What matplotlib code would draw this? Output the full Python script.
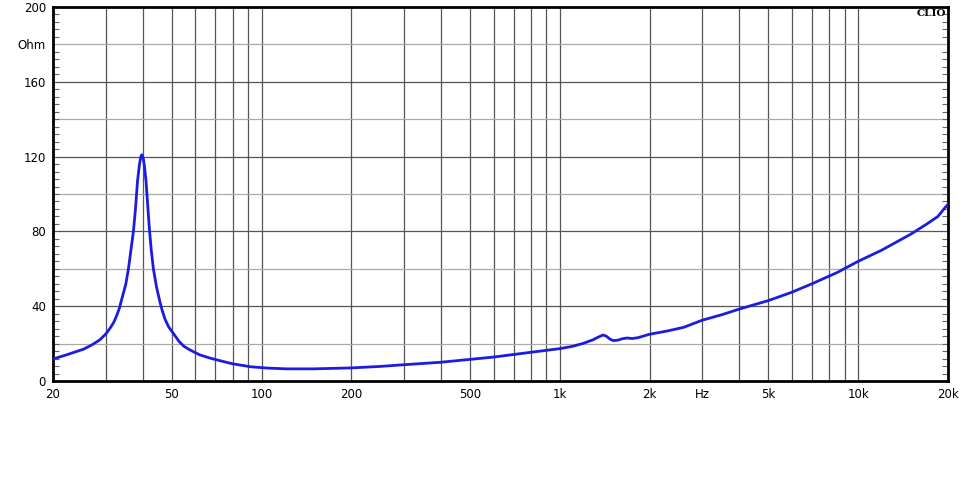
import numpy as np
import matplotlib
matplotlib.use('Agg')
import matplotlib.pyplot as plt
import matplotlib.ticker as ticker

# impedance curve (Hz, Ohm)
freq = [20, 21, 22.2, 23.5, 25.3, 27, 28.7, 30, 31, 32, 32.7, 33.4, 33.9, 34.5,
        35.1, 35.8, 36.5, 37.2, 37.8, 38.4, 39.0, 39.4, 39.7, 40.1, 40.5, 41.0,
        41.5, 42.1, 42.7, 43.4, 44.0, 44.5, 45.1, 45.7, 46.5, 47.5, 48.8, 50.6,
        53, 55, 57.6, 62, 67, 72, 80, 92, 105, 121, 150, 200, 250, 300, 397,
        474, 600, 794, 1000, 1100, 1196, 1290, 1350, 1396, 1430, 1470, 1507,
        1560, 1620, 1680, 1750, 1830, 1920, 2000, 2300, 2600, 3000, 3500, 4000,
        5000, 6000, 7000, 8500, 10000, 12000, 13500, 15000, 17000, 18500, 19500,
        20000]
imp = [11.8, 12.8, 14.0, 15.3, 17.0, 19.3, 22.0, 25.0, 28.0, 31.5, 35.0, 39.0,
       43.0, 47.5, 52.0, 60.0, 70.0, 80.0, 92.0, 107.0, 116.0, 120.0, 121.0,
       119.5, 115.0, 107.0, 95.0, 81.0, 70.0, 60.0, 54.5, 50.0, 46.0, 42.0,
       37.5, 33.0, 29.0, 25.5, 21.0, 18.5, 16.6, 14.0, 12.3, 11.0, 9.2, 7.6,
       6.9, 6.5, 6.5, 7.0, 7.8, 8.7, 10.0, 11.2, 12.8, 15.3, 17.3, 18.5, 20.1,
       22.0, 23.6, 24.6, 24.0, 22.5, 21.6, 21.8, 22.6, 23.0, 22.7, 23.2, 24.2,
       25.0, 26.8, 28.7, 32.5, 35.5, 38.5, 43.0, 47.5, 52.0, 58.0, 64.0, 70.0,
       74.5, 78.5, 84.0, 88.0, 92.5, 94.5]

xticks = [20, 50, 100, 200, 500, 1000, 2000, 3000, 5000, 10000, 20000]
xlabels = ['20', '50', '100', '200', '500', '1k', '2k', 'Hz', '5k', '10k', '20k']
yticks = [0, 40, 80, 120, 160, 180, 200]
ylabels = ['0', '40', '80', '120', '160', 'Ohm', '200']

plt.rcParams['font.family'] = ['DejaVu Sans']

fig = plt.figure(figsize=(9.64, 4.8), dpi=100)
ax = fig.add_axes([53/964, 1 - 381/480, (948-53)/964, (381-7)/480])

ax.set_xscale('log')
ax.set_xlim(20, 20000)
ax.set_ylim(0, 200)

# grid lines
grid_f = []
for dec in [10, 100, 1000, 10000]:
    for k in range(1, 10):
        f = k * dec
        if 20 < f < 20000:
            grid_f.append(f)
for f in grid_f:
    ax.axvline(f, color='#555555', lw=0.9, zorder=1)
for v in range(20, 200, 20):
    c = '#555555' if v % 40 == 0 else '#aaaaaa'
    ax.axhline(v, color=c, lw=0.9, zorder=1)

ax.plot(freq, imp, color='#1c1ce0', lw=2.0, zorder=3,
        solid_joinstyle='round')

ax.xaxis.set_major_locator(ticker.FixedLocator(xticks))
ax.xaxis.set_major_formatter(ticker.FixedFormatter(xlabels))
ax.xaxis.set_minor_locator(ticker.NullLocator())
ax.set_yticks(yticks)
ax.set_yticklabels(ylabels)
ax.yaxis.set_minor_locator(ticker.MultipleLocator(4))
ax.tick_params(axis='x', length=0, pad=5, labelsize=8.5)
ax.tick_params(axis='y', which='major', length=0, pad=5, labelsize=8.5)
ax.tick_params(axis='y', which='minor', direction='in', length=4, width=0.8,
               color='#666666', left=True, right=True)

for s in ax.spines.values():
    s.set_linewidth(2)
    s.set_color('black')

ax.text(0.998, 0.995, 'CLIO', transform=ax.transAxes, ha='right', va='top',
        fontsize=7.5, fontweight='bold', family='DejaVu Serif', zorder=4)

fig.savefig('out.png', dpi=100)
